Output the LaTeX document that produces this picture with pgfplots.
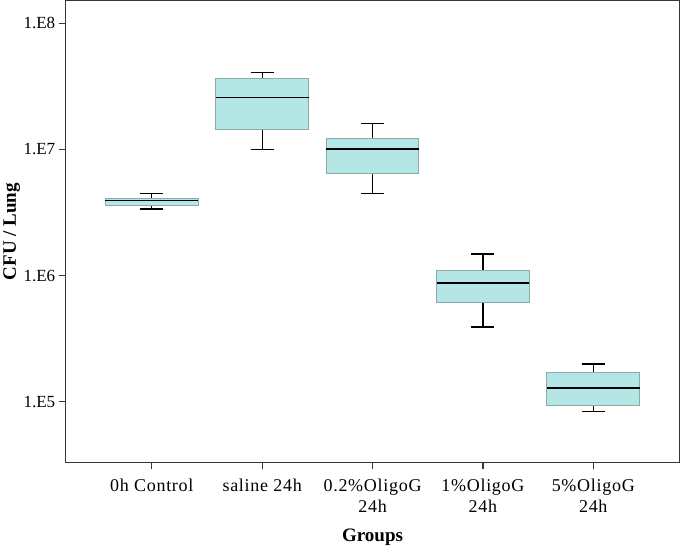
\documentclass[border=0pt]{standalone}
\usepackage{pgfplots}
\pgfplotsset{compat=1.18}
\usepgfplotslibrary{statistics}
\usepackage{fontspec}
\setmainfont{Liberation Serif}
\newfontfamily\spacedfont[LetterSpace=4]{Liberation Serif}
\definecolor{boxfill}{RGB}{180,230,230}
\definecolor{boxedge}{RGB}{140,170,170}
\definecolor{frame}{RGB}{55,55,55}
\begin{document}
\begin{tikzpicture}
% y values are log10(CFU / Lung)
\begin{axis}[
  scale only axis,
  width=614pt, height=462pt,
  ymin=4.52, ymax=8.18,
  xmin=0.22, xmax=5.78,
  xtick={1,2,3,4,5},
  xticklabels={0h Control, saline 24h, {0.2\%OligoG\\24h}, {1\%OligoG\\24h}, {5\%OligoG\\24h}},
  xticklabel style={align=center, font=\spacedfont\fontsize{18}{21}\selectfont, yshift=-6pt},
  ytick={5,6,7,8},
  yticklabels={\mbox{1.E5},\mbox{1.E6},\mbox{1.E7},\mbox{1.E8}},
  yticklabel style={font=\fontsize{17}{20}\selectfont},
  tick align=outside,
  xtick pos=lower, ytick pos=left,
  major tick length=7pt,
  tick style={frame, line width=1.2pt},
  axis line style={frame, line width=1.3pt},
  xlabel={\textbf{Groups}},
  ylabel={\textbf{CFU / Lung}},
  xlabel style={at={(axis description cs:0.5,-0.162)}, anchor=center, font=\fontsize{19}{21}\selectfont},
  ylabel style={at={(axis description cs:-0.088,0.5)}, anchor=center, font=\fontsize{19}{21}\selectfont},
  boxplot/draw direction=y,
  boxplot/box extend=0.84,
  boxplot/whisker extend=0.21,
  boxplot/every box/.style={draw=boxedge, fill=boxfill, line width=1pt},
  boxplot/every whisker/.style={black, line width=1.3pt},
  boxplot/every median/.style={black, line width=1.6pt},
]
\addplot+[mark=none, boxplot prepared={draw position=1,
  lower whisker=6.529, lower quartile=6.556, median=6.595,
  upper quartile=6.611, upper whisker=6.653}] coordinates {};
\addplot+[mark=none, boxplot prepared={draw position=2,
  lower whisker=7.0, lower quartile=7.159, median=7.413,
  upper quartile=7.561, upper whisker=7.609}] coordinates {};
\addplot+[mark=none, boxplot prepared={draw position=3,
  lower whisker=6.651, lower quartile=6.812, median=7.0025,
  upper quartile=7.085, upper whisker=7.204}] coordinates {};
\addplot+[mark=none, boxplot prepared={draw position=4,
  lower whisker=5.593, lower quartile=5.788, median=5.942,
  upper quartile=6.042, upper whisker=6.172}] coordinates {};
\addplot+[mark=none, boxplot prepared={draw position=5,
  lower whisker=4.921, lower quartile=4.971, median=5.111,
  upper quartile=5.236, upper whisker=5.299}] coordinates {};
\end{axis}
\end{tikzpicture}
\end{document}
